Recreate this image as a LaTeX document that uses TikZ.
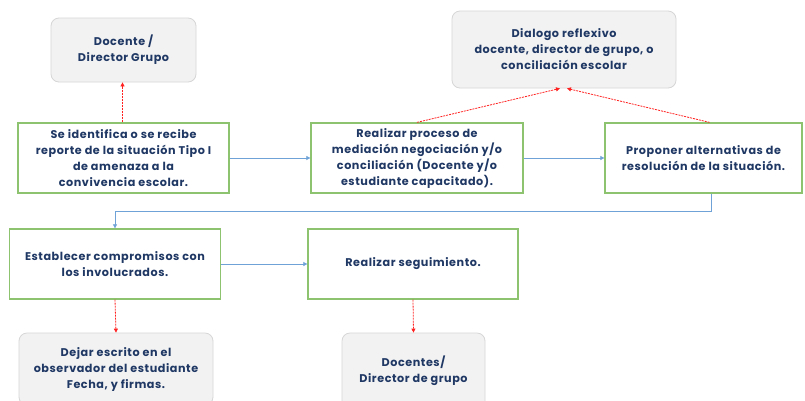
\documentclass[tikz,border=0pt]{standalone}
\usepackage{fontspec}
\setmainfont[LetterSpace=5]{Poppins}
\usetikzlibrary{arrows.meta}
\definecolor{navy}{HTML}{1F3864}
\definecolor{boxgreen}{HTML}{8DC26F}
\definecolor{grayfill}{HTML}{F2F2F2}
\definecolor{grayline}{HTML}{D6D6D6}
\definecolor{flowblue}{HTML}{6FA3D8}
\definecolor{linkred}{HTML}{FF2020}
\begin{document}
\begin{tikzpicture}[x=1pt,y=-1pt,
 txt/.style={font=\bfseries\fontsize{11.2}{16}\selectfont, text=navy, align=center},
 stepbox/.style={txt, draw=boxgreen, line width=1.3pt, fill=white, rectangle, inner sep=0pt},
 graybox/.style={txt, draw=grayline, fill=grayfill, rounded corners=8pt, line width=0.8pt, inner sep=0pt},
 flow/.style={draw=flowblue, line width=0.7pt, -{Triangle[length=4pt,width=4pt]}},
 link/.style={draw=linkred, line width=0.8pt, dash pattern=on 2pt off 1pt, -{Triangle[length=4pt,width=4pt]}}]
\clip (0,0) rectangle (805,400);
\fill[white] (0,0) rectangle (805,400);

\node[graybox, minimum width=145pt, minimum height=64pt] (doc) at (123.5,50) {Docente /\\Director Grupo};
\node[graybox, minimum width=224pt, minimum height=77pt] (dia) at (564,49.5) {Dialogo reflexivo\\docente, director de grupo, o\\conciliación escolar};

\node[stepbox, minimum width=211pt, minimum height=70pt] (A) at (123.5,158) {Se identifica o se recibe\\reporte de la situación Tipo I\\de amenaza a la\\convivencia escolar.};
\node[stepbox, minimum width=212pt, minimum height=70pt] (B) at (417,158) {Realizar proceso de\\mediación negociación y/o\\conciliación (Docente y/o\\estudiante capacitado).};
\node[stepbox, minimum width=197pt, minimum height=70pt] (C) at (703.5,158) {Proponer alternativas de\\resolución de la situación.};

\node[stepbox, minimum width=211pt, minimum height=70pt] (D) at (115,264) {Establecer compromisos con\\los involucrados.};
\node[stepbox, minimum width=210pt, minimum height=70pt] (E) at (413,264) {Realizar seguimiento.};

\node[graybox, minimum width=194pt, minimum height=72pt] (F) at (116,369) {Dejar escrito en el\\observador del estudiante\\Fecha, y firmas.};
\node[graybox, minimum width=143pt, minimum height=76pt] (G) at (413.5,371) {Docentes/\\Director de grupo};

\draw[flow] (A.east) -- (B.west);
\draw[flow] (B.east) -- (C.west);
\coordinate (turn) at (711,211);
\draw[flow] (C.south -| turn) -- (turn) -| (D.north);
\draw[flow] (D.east) -- (E.west);

\draw[link] ([xshift=-1pt]A.north) -- ([xshift=-1pt]doc.south);
\draw[link] (B.north) -- ([xshift=-4pt]dia.south);
\draw[link] ([xshift=6pt]C.north) -- ([xshift=3pt]dia.south);
\draw[link] (D.south) -- (F.north);
\draw[link] (E.south) -- (G.north);
\end{tikzpicture}
\end{document}
